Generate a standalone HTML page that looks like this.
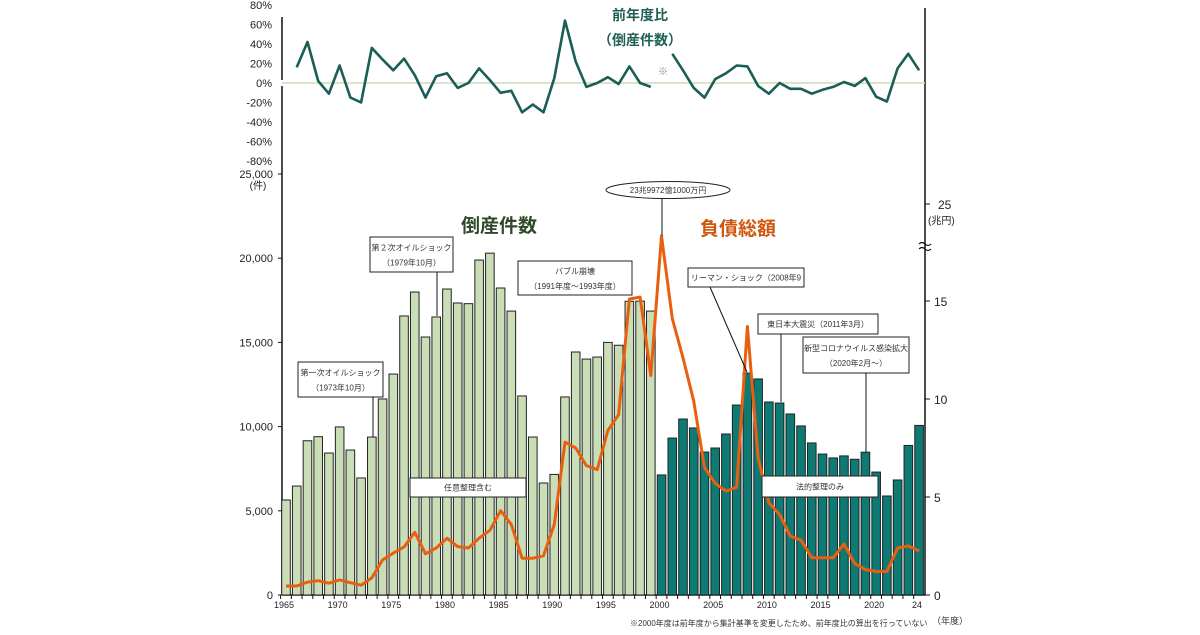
<!DOCTYPE html>
<html><head><meta charset="utf-8">
<style>
html,body{margin:0;padding:0;background:#fff;}
svg text{font-family:"Liberation Sans","Noto Sans CJK JP",sans-serif;}
</style></head>
<body>
<svg id="chart" width="1200" height="630" viewBox="0 0 1200 630" xmlns="http://www.w3.org/2000/svg">
<g id="axes"></g>
<g id="bars"></g>
<g id="lines"></g>
<g id="ann"></g>
</svg>
<script>
const years = [];
for (let y = 1965; y <= 2024; y++) years.push(y);
const counts = [5640,6470,9160,9400,8430,9980,8610,6950,9380,11640,13120,16570,17990,15320,16510,18170,17340,17300,19890,20300,18230,16860,11820,9380,6650,7160,11760,14430,14010,14130,15000,14830,17440,17450,16860,
7130,9320,10450,9920,8490,8730,9560,11280,13180,12830,11460,11400,10750,10040,9030,8370,8140,8260,8060,8480,7300,5880,6830,8880,10070];
const debt = [0.46,0.46,0.66,0.73,0.6,0.77,0.63,0.5,0.87,1.79,2.14,2.45,3.2,2.1,2.4,2.9,2.47,2.4,2.9,3.3,4.3,3.6,1.88,1.88,2.0,3.6,7.8,7.5,6.6,6.4,8.4,9.2,15.1,15.2,11.2,
23.99,14.1,12.1,9.9,6.5,5.7,5.3,5.5,13.7,7.0,4.7,4.1,3.0,2.8,1.9,1.9,1.9,2.6,1.6,1.3,1.2,1.2,2.4,2.5,2.25];
const yoy = [null,16,42,2,-11,18,-15,-20,36,24,13,25,8,-15,7,10,-5,0,15,3,-10,-8,-30,-22,-30,5,64,22,-4,0,6,-1,17,0,-4,
null,30,13,-5,-15,4,10,18,17,-3,-11,0,-6,-6,-11,-7,-4,1,-3,5,-14,-19,15,30,13];
const leftTicks = [0,5000,10000,15000,20000,25000];
const leftTickLabels = ["0","5,000","10,000","15,000","20,000","25,000"];
const rightTicks = [0,5,10,15];
const pctTicks = [80,60,40,20,0,-20,-40,-60,-80];
const xLabelYears = [1965,1970,1975,1980,1985,1990,1995,2000,2005,2010,2015,2020,2024];

const NS = "http://www.w3.org/2000/svg";
function mk(tag, attrs, parent, text){const e=document.createElementNS(NS,tag);for(const k in attrs)e.setAttribute(k,attrs[k]);if(text!==undefined)e.textContent=text;parent.appendChild(e);return e;}
const xS = yr => 286 + (yr-1965)*10.73;
const yL = v => 595 - v/25000*421;
const yR = v => v<=18 ? 595 - v*19.6 : 242 - (v-18)*1.0;
const yP = p => 83 - p/20*19.5;

const axes=document.getElementById('axes'), bars=document.getElementById('bars'), lines=document.getElementById('lines'), ann=document.getElementById('ann');

let e;
e=mk('line',{x1:282,y1:86,x2:282,y2:595,stroke:'#111','stroke-width':1.5},axes);

e=mk('line',{x1:282,y1:17,x2:282,y2:80,stroke:'#111','stroke-width':1.5},axes);

e=mk('line',{x1:925,y1:8,x2:925,y2:595,stroke:'#111','stroke-width':1.5},axes);

e=mk('line',{x1:282,y1:595,x2:925,y2:595,stroke:'#111','stroke-width':1.5},axes);

e=mk('line',{x1:282,y1:yP(0),x2:925,y2:yP(0),stroke:'#cfdcb8','stroke-width':1.5},axes);

leftTicks.forEach((v,i)=>{
  const t=mk('text',{x:273,y:yL(v)+4,'font-size':11,'text-anchor':'end',fill:'#222'},axes,leftTickLabels[i]);
  
  mk('line',{x1:278,y1:yL(v),x2:282,y2:yL(v),stroke:'#111'},axes);
});
e=mk('text',{x:258,y:189,'font-size':10,'text-anchor':'middle',fill:'#222'},axes,'(件)');

rightTicks.forEach(v=>{
  const t=mk('text',{x:934,y:yR(v)+5,'font-size':12,fill:'#222'},axes,String(v));
  
  mk('line',{x1:925,y1:yR(v),x2:930,y2:yR(v),stroke:'#111'},axes);
});
e=mk('text',{x:938,y:209,'font-size':12,fill:'#222'},axes,'25');

mk('line',{x1:925,y1:204,x2:930,y2:204,stroke:'#111'},axes);
e=mk('text',{x:928,y:224,'font-size':10,fill:'#222'},axes,'(兆円)');

e=mk('path',{d:'M919,244 q3,-3 6,0 q3,3 6,0 M919,249 q3,-3 6,0 q3,3 6,0',fill:'none',stroke:'#111','stroke-width':1.2},axes);

pctTicks.forEach(p=>{
  const t=mk('text',{x:272,y:yP(p)+4,'font-size':11,'text-anchor':'end',fill:'#222'},axes,p+'%');
  
});
xLabelYears.forEach(yr=>{
  const t=mk('text',{x:xS(yr)-2,y:608,'font-size':9,'text-anchor':'middle',fill:'#222'},axes,yr===2024?'24':String(yr));
  
});
years.forEach(yr=>mk('line',{x1:xS(yr)-5.4,y1:595,x2:xS(yr)-5.4,y2:599,stroke:'#111'},axes));

years.forEach((yr,i)=>{
  const r=mk('rect',{x:xS(yr)-4.3,y:yL(counts[i]),width:8.6,height:595-yL(counts[i]),fill:yr<2000?'#c9deb6':'#0e7a74',stroke:'#222','stroke-width':1},bars);
  
});

let d='';
years.forEach((yr,i)=>{d+=(i?'L':'M')+xS(yr).toFixed(1)+','+yR(debt[i]).toFixed(1);});
e=mk('path',{d:d,fill:'none',stroke:'#e8600f','stroke-width':3,'stroke-linejoin':'round'},lines);


let d2='',pen=false;
years.forEach((yr,i)=>{
  if(yoy[i]===null){pen=false;return;}
  d2+=(pen?'L':'M')+xS(yr).toFixed(1)+','+yP(yoy[i]).toFixed(1);pen=true;
});
e=mk('path',{d:d2,fill:'none',stroke:'#1a5e55','stroke-width':2.6,'stroke-linejoin':'round'},lines);


function box(name,x,y,w,h,l1,l2){
  const g=mk('g',{},ann);
  mk('rect',{x:x,y:y,width:w,height:h,fill:'#fff',stroke:'#222','stroke-width':1},g);
  if(l2){mk('text',{x:x+w/2,y:y+h/2-4,'font-size':8,'text-anchor':'middle',fill:'#333'},g,l1);
         mk('text',{x:x+w/2,y:y+h/2+11,'font-size':8,'text-anchor':'middle',fill:'#333'},g,l2);}
  else mk('text',{x:x+w/2,y:y+h/2+3,'font-size':8,'text-anchor':'middle',fill:'#333'},g,l1);
}
function leader(x1,y1,x2,y2){mk('line',{x1:x1,y1:y1,x2:x2,y2:y2,stroke:'#111','stroke-width':1},ann);}
leader(373,397,373,437); box('oil-shock-1-label',298,362,85,35,'第一次オイルショック','（1973年10月）');
leader(437,272,437,316); box('oil-shock-2-label',370,237,83,35,'第２次オイルショック','（1979年10月）');
box('bubble-label',518,261,114,34,'バブル崩壊','（1991年度～1993年度）');
box('voluntary-label',410,478,116,19,'任意整理含む');
leader(710,287,747,372); box('lehman-label',688,268,116,19,'リーマン・ショック（2008年9');
leader(781,334,781,402); box('earthquake-label',758,314,120,20,'東日本大震災（2011年3月）');
leader(866,373,866,452); box('covid-label',803,337,106,36,'新型コロナウイルス感染拡大','（2020年2月～）');
box('legal-only-label',762,476,116,21,'法的整理のみ');
leader(662,198,662,236);
const eg=mk('g',{},ann);
mk('ellipse',{cx:668,cy:190,rx:62,ry:8.5,fill:'#fff',stroke:'#222'},eg);
mk('text',{x:668,y:193,'font-size':8,'text-anchor':'middle',fill:'#333'},eg,'23兆9972億1000万円');
e=mk('text',{x:499,y:232,'font-size':19,'font-weight':'bold','text-anchor':'middle',fill:'#2f4a2a'},ann,'倒産件数');

e=mk('text',{x:738,y:235,'font-size':19,'font-weight':'bold','text-anchor':'middle',fill:'#d0560e'},ann,'負債総額');

e=mk('text',{x:640,y:20,'font-size':14,'font-weight':'bold','text-anchor':'middle',fill:'#1f5f55'},ann,'前年度比');

e=mk('text',{x:640,y:45,'font-size':14,'font-weight':'bold','text-anchor':'middle',fill:'#1f5f55'},ann,'（倒産件数）');

e=mk('text',{x:663,y:75,'font-size':10,'text-anchor':'middle',fill:'#888'},ann,'※');

e=mk('text',{x:630,y:626,'font-size':8,fill:'#333'},ann,'※2000年度は前年度から集計基準を変更したため、前年度比の算出を行っていない');

e=mk('text',{x:932,y:624,'font-size':9,fill:'#333'},ann,'（年度）');

</script>
</body></html>
